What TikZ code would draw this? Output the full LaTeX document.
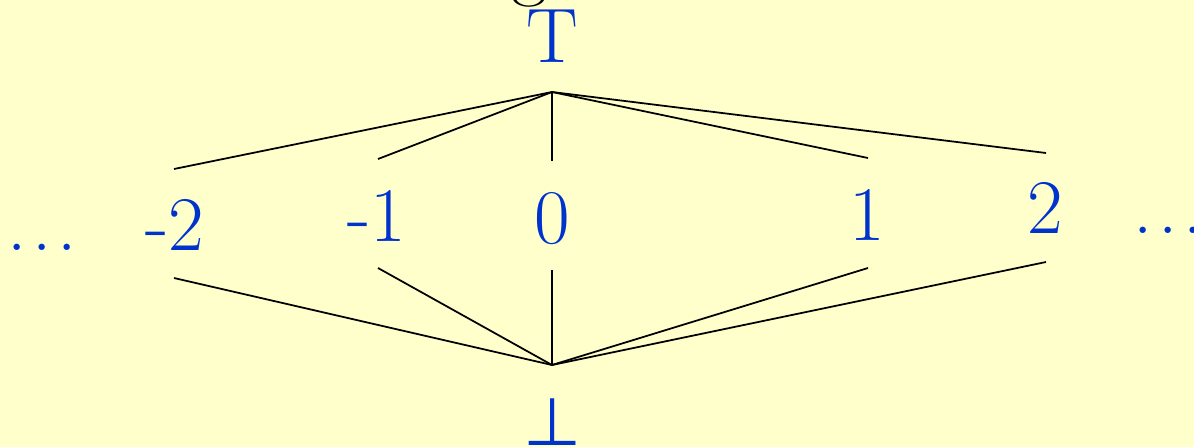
\documentclass[tikz,border=0pt]{standalone}
\usepackage{fontspec}
\newfontfamily\dejavu{DejaVu Sans}
\definecolor{bgyellow}{RGB}{255,255,204}
\definecolor{lblue}{RGB}{0,51,204}
\begin{document}
\begin{tikzpicture}[x=0.02cm,y=-0.02cm,
  lab/.style={text=lblue,inner sep=0pt,anchor=base,font=\fontsize{44}{50}\selectfont},
  edge/.style={draw=black,line width=1pt}]
\useasboundingbox (0,0) rectangle (1194,447);
\clip (0,0) rectangle (1194,447);
\fill[bgyellow] (0,0) rectangle (1194,447);
% cut-off title letter
\node[inner sep=0pt,anchor=base,text=black,font=\fontsize{44}{50}\selectfont] (g) at (529,-9) {g};
% labels
\node[lab] (top) at (552,62) {T};
\node[lab] (m2) at (175,250) {-2};
\node[lab] (m1) at (377,241) {-1};
\node[lab] (z) at (552,243) {0};
\node[lab] (p1) at (867,240) {1};
\node[lab] (p2) at (1045,233) {2};
\node[lab] (ldots) at (42,250) {.\kern0.07em.\kern0.07em.};
\node[lab] (rdots) at (1168,233) {.\kern0.07em.\kern0.07em.};
\node[lab,font=\fontsize{38}{44}\dejavu] (bot) at (553,445) {⊥};
% vertices
\coordinate (t) at (552,92);
\coordinate (b) at (552,365);
\coordinate (tm2) at (174,169);
\coordinate (tm1) at (378,159);
\coordinate (tz) at (552,161);
\coordinate (tp1) at (868,158);
\coordinate (tp2) at (1046,153);
\coordinate (bm2) at (174,278);
\coordinate (bm1) at (378,268);
\coordinate (bz) at (552,270);
\coordinate (bp1) at (868,268);
\coordinate (bp2) at (1046,262);
\foreach \e in {tm2,tm1,tz,tp1,tp2} \draw[edge] (t) -- (\e);
\foreach \e in {bm2,bm1,bz,bp1,bp2} \draw[edge] (b) -- (\e);
\end{tikzpicture}
\end{document}
